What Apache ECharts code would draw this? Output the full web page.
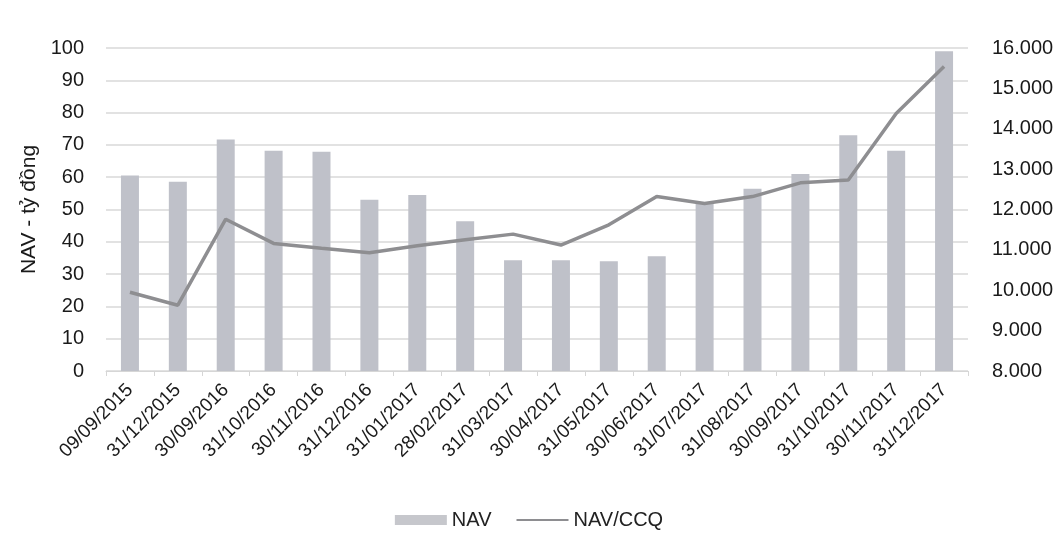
<!DOCTYPE html>
<html>
<head>
<meta charset="utf-8">
<script src="https://cdn.jsdelivr.net/npm/echarts@6/dist/echarts.min.js"></script>
<style>
  html, body { margin: 0; padding: 0; background: #fff; }
  #chart { width: 1058px; height: 535px; }
</style>
</head>
<body>
<div id="chart"></div>
<script>
// du lieu
var ngay = ['09/09/2015', '31/12/2015', '30/09/2016', '31/10/2016', '30/11/2016', '31/12/2016',
  '31/01/2017', '28/02/2017', '31/03/2017', '30/04/2017', '31/05/2017', '30/06/2017',
  '31/07/2017', '31/08/2017', '30/09/2017', '31/10/2017', '30/11/2017', '31/12/2017'];
var nav = [60.5, 58.6, 71.7, 68.2, 67.9, 53, 54.5, 46.4, 34.3, 34.3, 34, 35.5, 52, 56.4, 61, 73, 68.2, 99];
var navCcq = [9950, 9630, 11760, 11160, 11040, 10930, 11100, 11250, 11390, 11120, 11620, 12320,
  12150, 12320, 12660, 12730, 14380, 15540];

var font = 'Liberation Sans';
var myChart = echarts.init(document.getElementById('chart'));
var option = {
  animation: false,
  textStyle: { fontFamily: font },
  grid: { left: 106, right: 90, top: 48, bottom: 164 },
  legend: {
    bottom: 0,
    left: 'center',
    itemGap: 24,
    textStyle: { fontSize: 20, color: '#222' },
    data: [
      { name: 'NAV', icon: 'rect', itemStyle: { color: '#c6c7cc' } },
      { name: 'NAV/CCQ', itemStyle: { color: 'rgba(0,0,0,0)', borderWidth: 0 } }
    ],
    itemWidth: 52,
    itemHeight: 10
  },
  xAxis: {
    type: 'category',
    data: ngay,
    axisLine: { lineStyle: { color: '#d6d6d6' } },
    axisTick: { show: true, lineStyle: { color: '#d6d6d6' } },
    axisLabel: { rotate: 45, fontSize: 19, color: '#1a1a1a', margin: 16, interval: 0 }
  },
  yAxis: [
    {
      type: 'value',
      min: 0, max: 100, interval: 10,
      name: 'NAV - tỷ đồng',
      nameLocation: 'middle',
      nameRotate: 90,
      nameGap: 66,
      nameTextStyle: { fontSize: 21, color: '#1a1a1a' },
      axisLabel: { fontSize: 20, color: '#1a1a1a', margin: 22 },
      splitLine: { lineStyle: { color: '#d9d9d9', width: 1.5 } }
    },
    {
      type: 'value',
      min: 8000, max: 16000, interval: 1000,
      axisLabel: {
        fontSize: 20, color: '#1a1a1a', margin: 24,
        formatter: function (v) { return (v / 1000).toFixed(3); }
      },
      splitLine: { show: false }
    }
  ],
  series: [
    {
      name: 'NAV',
      type: 'bar',
      data: nav,
      barWidth: 18,
      itemStyle: { color: '#bfc1c9' }
    },
    {
      name: 'NAV/CCQ',
      type: 'line',
      yAxisIndex: 1,
      data: navCcq,
      symbol: 'none',
      lineStyle: { color: '#8e8e91', width: 3.5 },
      itemStyle: { color: '#8e8e91' }
    }
  ]
};
myChart.setOption(option);
</script>
</body>
</html>
